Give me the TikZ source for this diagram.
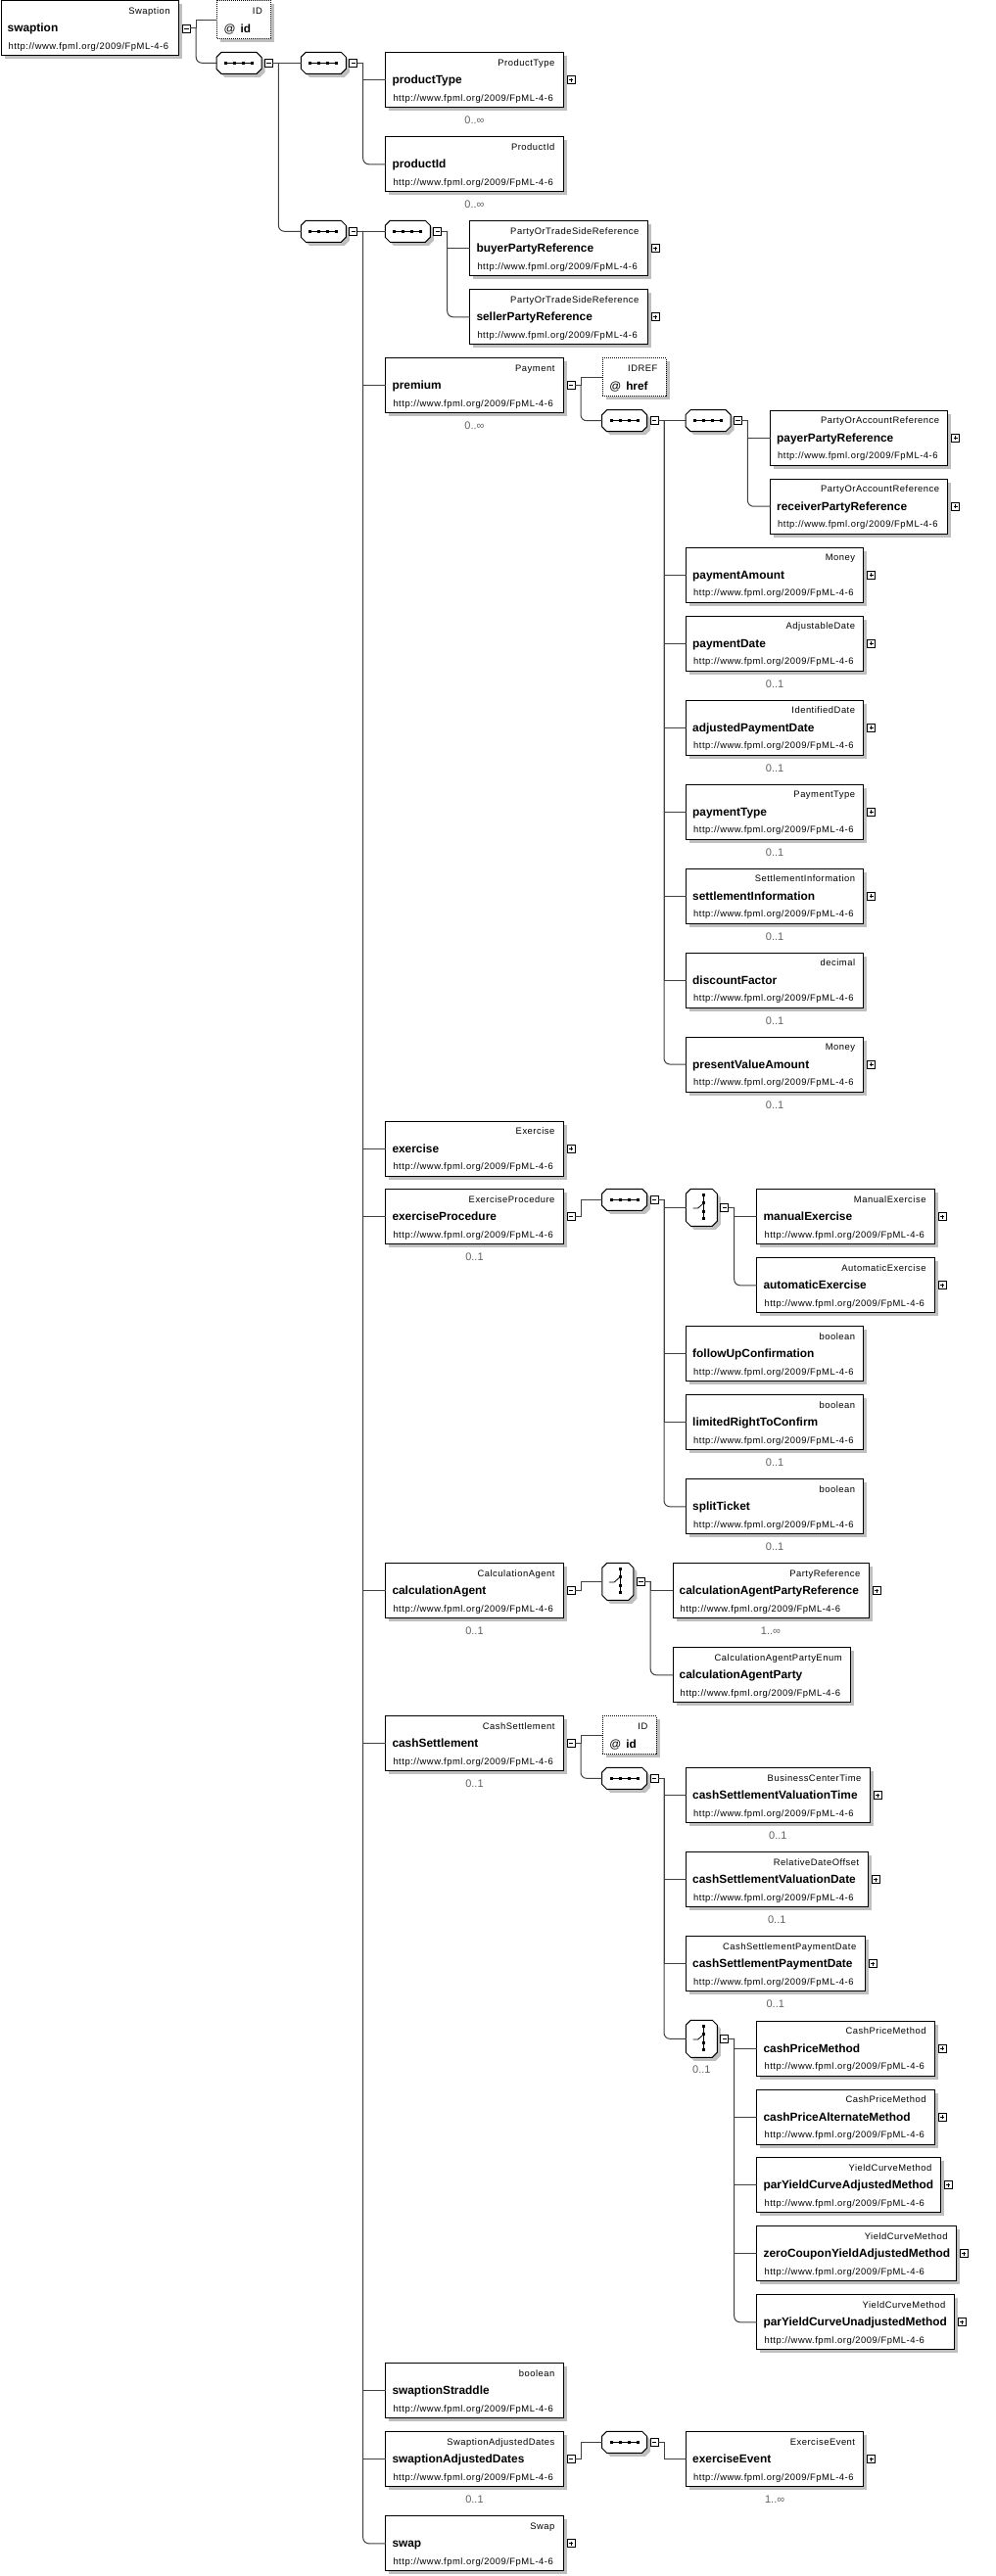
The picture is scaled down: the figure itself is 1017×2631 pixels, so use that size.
\documentclass[tikz,border=0pt]{standalone}
\usepackage{fontspec}
\setmainfont{Liberation Sans}
\newfontfamily\smallfont[LetterSpace=5.5]{Liberation Sans}
\usetikzlibrary{shadows}

% element box with its type, name and namespace
\newcommand{\elem}[5]{%
  \node[elembox, minimum width=#4pt] (#1) at (#2,#3) {};
  \node[typetxt] (#1-t) at ([xshift=-9pt,yshift=-13.8pt]#1.north east) {#5};
  \node[nametxt] (#1-n) at ([xshift=7pt,yshift=-32.5pt]#1.north west) {#1};
  \node[urltxt] (#1-u) at ([xshift=8pt,yshift=-49.8pt]#1.north west) {http://www.fpml.org/2009/FpML-4-6};}
\newcommand{\attr}[6]{%
  \node[attrbox, minimum width=#4pt] (#1) at (#2,#3) {};
  \node[typetxt] (#1-t) at ([xshift=-9pt,yshift=-13.8pt]#1.north east) {#5};
  \node[attrtxt] (#1-n) at ([xshift=7.5pt,yshift=-33pt]#1.north west) {@\hspace{5pt}\textbf{#6}};}
\newcommand{\card}[2]{\node[cardtxt] (#1-c) at ([yshift=-16.5pt]#1.south) {#2};}
\newcommand{\minusmark}[1]{\node[minusbox] (#1-m) at ([xshift=7.5pt]#1.east) {};}
\newcommand{\plusmark}[1]{\node[plusbox] (#1-p) at ([xshift=7.5pt]#1.east) {};}
\newcommand{\octagon}[1]{%
  \path[boxshadow, draw, line width=1pt, fill=white]
    ([xshift=5pt]#1.north west) -- ([xshift=-5pt]#1.north east) -- ([yshift=-5pt]#1.north east)
    -- ([yshift=5pt]#1.south east) -- ([xshift=-5pt]#1.south east) -- ([xshift=5pt]#1.south west)
    -- ([yshift=5pt]#1.south west) -- ([yshift=-5pt]#1.north west) -- cycle;}
\newcommand{\seqmark}[1]{%
  \octagon{#1}
  \draw[symline] ([xshift=-13.5pt]#1.center) -- ([xshift=13.5pt]#1.center);
  \foreach \d in {-13.5,-4.5,4.5,13.5}
    \fill ([xshift=\d pt]#1.center) +(-1.5,-1.5) rectangle +(1.5,1.5);}
\newcommand{\choicemark}[1]{%
  \octagon{#1}
  \draw[symline] ([xshift=2.3pt,yshift=14pt]#1.center) -- ([xshift=2.3pt,yshift=-13pt]#1.center);
  \foreach \d in {12.5,5,-4,-11.5}
    \fill ([xshift=2.3pt,yshift=\d pt]#1.center) +(-1.5,-1.5) rectangle +(1.5,1.5);
  \draw[symline] ([xshift=-8.7pt,yshift=-0.7pt]#1.center) -- ([xshift=-3.7pt,yshift=-0.7pt]#1.center)
    -- ([xshift=2.3pt,yshift=4.6pt]#1.center);}

\begin{document}
\begin{tikzpicture}[x=1pt, y=-1pt,
    boxshadow/.style={general shadow={fill=black!25, shadow xshift=3.5pt, shadow yshift=-3.5pt}},
    elembox/.style={draw, line width=1pt, fill=white, minimum height=56pt, inner sep=0pt, anchor=north west, boxshadow},
    attrbox/.style={elembox, dash pattern=on 1pt off 1pt, minimum height=39pt},
    seqbox/.style={minimum width=46pt, minimum height=22pt, inner sep=0pt, outer sep=0pt},
    choicebox/.style={minimum width=32pt, minimum height=38pt, inner sep=0pt, outer sep=0pt},
    typetxt/.style={font=\smallfont\fontsize{9.4}{10}\selectfont, inner sep=0pt, anchor=base east},
    nametxt/.style={font=\fontsize{11.9}{12}\selectfont\bfseries, inner sep=0pt, anchor=base west},
    urltxt/.style={font=\smallfont\fontsize{9.4}{10}\selectfont, inner sep=0pt, anchor=base west},
    attrtxt/.style={font=\fontsize{11.8}{12}\selectfont, inner sep=0pt, anchor=base west},
    cardtxt/.style={font=\fontsize{11}{12}\selectfont, text=black!62, inner sep=0pt, anchor=base},
    minusbox/.style={draw, line width=0.8pt, fill=white, minimum size=8pt, inner sep=0pt,
      path picture={\draw[line width=0.8pt] ([xshift=1.8pt]path picture bounding box.west) -- ([xshift=-1.8pt]path picture bounding box.east);}},
    plusbox/.style={minusbox,
      path picture={\draw[line width=0.8pt] ([xshift=1.8pt]path picture bounding box.west) -- ([xshift=-1.8pt]path picture bounding box.east)
        ([yshift=1.8pt]path picture bounding box.south) -- ([yshift=-1.8pt]path picture bounding box.north);}},
    symline/.style={line width=0.8pt},
    conn/.style={draw=black!75, line width=1pt, line cap=rect},
    last/.style={conn, rounded corners=6pt}]

  \useasboundingbox (0,0) rectangle (1017,2631);

  % root and its first levels
  \elem{swaption}{0.5}{0.5}{181.3}{Swaption}
  \minusmark{swaption}
  \attr{id}{221}{0.5}{55}{ID}{id}
  \node[seqbox] (s1) at (244,64.3) {};
  \node[seqbox] (s2) at (330.3,64.3) {};
  \node[seqbox] (s3) at (330.3,236.3) {};
  \node[seqbox] (s4) at (416.3,236.3) {};
  \foreach \s in {s1,s2,s3,s4} {\seqmark{\s} \minusmark{\s}}

  \elem{productType}{393.3}{53.3}{181.3}{ProductType}
  \card{productType}{0..∞}
  \elem{productId}{393.3}{139.3}{181.3}{ProductId}
  \card{productId}{0..∞}
  \elem{buyerPartyReference}{479.3}{225.3}{181.3}{PartyOrTradeSideReference}
  \elem{sellerPartyReference}{479.3}{295.3}{181.3}{PartyOrTradeSideReference}

  % premium
  \elem{premium}{393.3}{365.3}{181.3}{Payment}
  \minusmark{premium}
  \card{premium}{0..∞}
  \attr{href}{614.6}{365.3}{65}{IDREF}{href}
  \node[seqbox] (sp) at (637.6,429.7) {};
  \node[seqbox] (ps) at (723,429.7) {};
  \foreach \s in {sp,ps} {\seqmark{\s} \minusmark{\s}}
  \elem{payerPartyReference}{786}{418.7}{181.3}{PartyOrAccountReference}
  \elem{receiverPartyReference}{786}{488.7}{181.3}{PartyOrAccountReference}
  \elem{paymentAmount}{700}{558.7}{181.3}{Money}
  \elem{paymentDate}{700}{628.5}{181.3}{AdjustableDate}
  \elem{adjustedPaymentDate}{700}{714.5}{181.3}{IdentifiedDate}
  \elem{paymentType}{700}{800.5}{181.3}{PaymentType}
  \elem{settlementInformation}{700}{886.5}{181.3}{SettlementInformation}
  \elem{discountFactor}{700}{972.5}{181.3}{decimal}
  \elem{presentValueAmount}{700}{1058.5}{181.3}{Money}
  \foreach \e in {paymentDate,adjustedPaymentDate,paymentType,settlementInformation,discountFactor,presentValueAmount}
    {\card{\e}{0..1}}

  % exercise
  \elem{exercise}{393.3}{1144.5}{181.3}{Exercise}
  \elem{exerciseProcedure}{393.3}{1214.3}{181.3}{ExerciseProcedure}
  \minusmark{exerciseProcedure}
  \card{exerciseProcedure}{0..1}
  \node[seqbox] (es) at (637.6,1225.3) {};
  \seqmark{es} \minusmark{es}
  \node[choicebox] (ec) at (716.3,1233.3) {};
  \choicemark{ec} \minusmark{ec}
  \elem{manualExercise}{772.4}{1214.3}{181.3}{ManualExercise}
  \elem{automaticExercise}{772.4}{1284.3}{181.3}{AutomaticExercise}
  \elem{followUpConfirmation}{700}{1354.3}{181.3}{boolean}
  \elem{limitedRightToConfirm}{700}{1424.3}{181.3}{boolean}
  \card{limitedRightToConfirm}{0..1}
  \elem{splitTicket}{700}{1510.3}{181.3}{boolean}
  \card{splitTicket}{0..1}

  % calculation agent
  \elem{calculationAgent}{393.3}{1596.3}{181.3}{CalculationAgent}
  \minusmark{calculationAgent}
  \card{calculationAgent}{0..1}
  \node[choicebox] (cc) at (630.8,1615.3) {};
  \choicemark{cc} \minusmark{cc}
  \elem{calculationAgentPartyReference}{686.5}{1596.3}{200}{PartyReference}
  \card{calculationAgentPartyReference}{1..∞}
  \elem{calculationAgentParty}{686.5}{1682.3}{181.3}{CalculationAgentPartyEnum}

  % cash settlement
  \elem{cashSettlement}{393.3}{1752.3}{181.3}{CashSettlement}
  \minusmark{cashSettlement}
  \card{cashSettlement}{0..1}
  \attr{csid}{614.6}{1752.3}{55}{ID}{id}
  \node[seqbox] (cs) at (637.6,1816.3) {};
  \seqmark{cs} \minusmark{cs}
  \elem{cashSettlementValuationTime}{700}{1805.3}{187.6}{BusinessCenterTime}
  \elem{cashSettlementValuationDate}{700}{1891.3}{185.5}{RelativeDateOffset}
  \elem{cashSettlementPaymentDate}{700}{1977.3}{182.5}{CashSettlementPaymentDate}
  \foreach \e in {cashSettlementValuationTime,cashSettlementValuationDate,cashSettlementPaymentDate}
    {\card{\e}{0..1}}
  \node[choicebox] (csc) at (716.3,2082.3) {};
  \choicemark{csc} \minusmark{csc}
  \card{csc}{0..1}
  \elem{cashPriceMethod}{772.4}{2063.7}{181.3}{CashPriceMethod}
  \elem{cashPriceAlternateMethod}{772.4}{2133.7}{181.3}{CashPriceMethod}
  \elem{parYieldCurveAdjustedMethod}{772.4}{2203.3}{187.1}{YieldCurveMethod}
  \elem{zeroCouponYieldAdjustedMethod}{772.4}{2273.3}{203.3}{YieldCurveMethod}
  \elem{parYieldCurveUnadjustedMethod}{772.4}{2343.3}{201.2}{YieldCurveMethod}

  % last children of the main sequence
  \elem{swaptionStraddle}{393.3}{2413.3}{181.3}{boolean}
  \elem{swaptionAdjustedDates}{393.3}{2483.3}{181.3}{SwaptionAdjustedDates}
  \minusmark{swaptionAdjustedDates}
  \card{swaptionAdjustedDates}{0..1}
  \node[seqbox] (sd) at (637.6,2494.3) {};
  \seqmark{sd} \minusmark{sd}
  \elem{exerciseEvent}{700}{2483.3}{181.3}{ExerciseEvent}
  \card{exerciseEvent}{1..∞}
  \elem{swap}{393.3}{2569.3}{181.3}{Swap}

  \foreach \e in {productType,buyerPartyReference,sellerPartyReference,payerPartyReference,receiverPartyReference,
      paymentAmount,paymentDate,adjustedPaymentDate,paymentType,settlementInformation,presentValueAmount,
      exercise,manualExercise,automaticExercise,calculationAgentPartyReference,
      cashSettlementValuationTime,cashSettlementValuationDate,cashSettlementPaymentDate,
      cashPriceMethod,cashPriceAlternateMethod,parYieldCurveAdjustedMethod,
      zeroCouponYieldAdjustedMethod,parYieldCurveUnadjustedMethod,exerciseEvent,swap}
    {\plusmark{\e}}

  % connectors
  \foreach \p in {swaption,s1,s2,s3,s4,premium,sp,ps,exerciseProcedure,es,ec,
      calculationAgent,cc,cashSettlement,cs,csc,swaptionAdjustedDates,sd}
    \draw[conn] (\p-m.east) -- ++(5.5,0) coordinate (\p-j);

  \draw[conn] (swaption-j) |- (id.west);
  \draw[last] (swaption-j) |- (s1.west);
  \draw[conn] (s1-j) |- (s2.west);
  \draw[last] (s1-j) |- (s3.west);
  \draw[conn] (s2-j) |- (productType.west);
  \draw[last] (s2-j) |- (productId.west);
  \foreach \c in {s4,premium,exercise,exerciseProcedure,calculationAgent,cashSettlement,swaptionStraddle,swaptionAdjustedDates}
    \draw[conn] (s3-j) |- (\c.west);
  \draw[last] (s3-j) |- (swap.west);
  \draw[conn] (s4-j) |- (buyerPartyReference.west);
  \draw[last] (s4-j) |- (sellerPartyReference.west);

  \draw[conn] (premium-j) |- (href.west);
  \draw[last] (premium-j) |- (sp.west);
  \foreach \c in {ps,paymentAmount,paymentDate,adjustedPaymentDate,paymentType,settlementInformation,discountFactor}
    \draw[conn] (sp-j) |- (\c.west);
  \draw[last] (sp-j) |- (presentValueAmount.west);
  \draw[conn] (ps-j) |- (payerPartyReference.west);
  \draw[last] (ps-j) |- (receiverPartyReference.west);

  \draw[conn] (exerciseProcedure-j) |- (es.west);
  \foreach \c in {ec,followUpConfirmation,limitedRightToConfirm}
    \draw[conn] (es-j) |- (\c.west);
  \draw[last] (es-j) |- (splitTicket.west);
  \draw[conn] (ec-j) |- (manualExercise.west);
  \draw[last] (ec-j) |- (automaticExercise.west);

  \draw[conn] (calculationAgent-j) |- (cc.west);
  \draw[conn] (cc-j) |- (calculationAgentPartyReference.west);
  \draw[last] (cc-j) |- (calculationAgentParty.west);

  \draw[conn] (cashSettlement-j) |- (csid.west);
  \draw[last] (cashSettlement-j) |- (cs.west);
  \foreach \c in {cashSettlementValuationTime,cashSettlementValuationDate,cashSettlementPaymentDate}
    \draw[conn] (cs-j) |- (\c.west);
  \draw[last] (cs-j) |- (csc.west);
  \foreach \c in {cashPriceMethod,cashPriceAlternateMethod,parYieldCurveAdjustedMethod,zeroCouponYieldAdjustedMethod}
    \draw[conn] (csc-j) |- (\c.west);
  \draw[last] (csc-j) |- (parYieldCurveUnadjustedMethod.west);

  \draw[conn] (swaptionAdjustedDates-j) |- (sd.west);
  \draw[conn] (sd-j) |- (exerciseEvent.west);
\end{tikzpicture}
\end{document}
